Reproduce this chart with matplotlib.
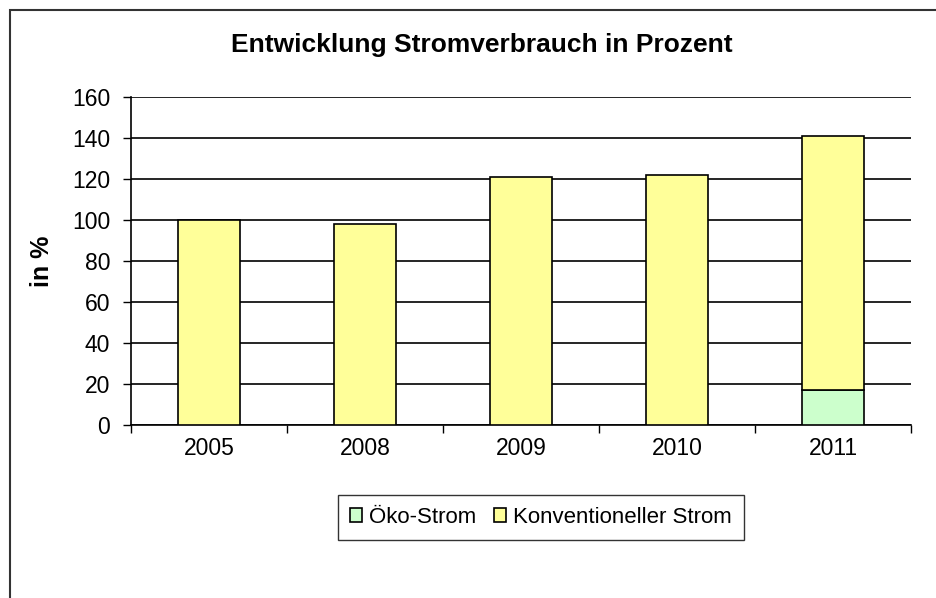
import numpy as np
import matplotlib
matplotlib.use("Agg")
import matplotlib.pyplot as plt
from matplotlib.patches import Rectangle

plt.rcParams['font.family'] = ['Liberation Sans', 'DejaVu Sans']

# Data
years = ['2005', '2008', '2009', '2010', '2011']
oeko = [0, 0, 0, 0, 17]
konventionell = [100, 98, 121, 122, 124]

fig = plt.figure(figsize=(9.36, 5.98), dpi=100)
ax = fig.add_axes([131 / 936, 0.2893, 780 / 936, 0.5485])

x = np.arange(len(years))
w = 0.4
ax.bar(x, oeko, w, color='#CCFFCC', edgecolor='black', linewidth=1.2,
       label='Öko-Strom', zorder=3)
ax.bar(x, konventionell, w, bottom=oeko, color='#FFFF99', edgecolor='black',
       linewidth=1.2, label='Konventioneller Strom', zorder=3)

ax.set_xlim(-0.5, len(years) - 0.5)
ax.set_ylim(0, 160)
ax.set_yticks(range(0, 161, 20))
ax.set_xticks(x)
ax.set_xticklabels(years, fontsize=16.5)
ax.set_xticks(np.arange(-0.5, len(years), 1), minor=True)
ax.tick_params(axis='x', which='major', length=0, pad=9)
ax.tick_params(axis='x', which='minor', length=6, width=1, direction='out')
ax.tick_params(axis='y', labelsize=16.5, length=6, width=1, direction='out',
               pad=9)
ax.yaxis.grid(True, color='black', linewidth=1.2, zorder=0)
ax.set_axisbelow(True)

for s in ['top', 'right']:
    ax.spines[s].set_visible(False)
ax.spines['left'].set_linewidth(1.2)
ax.spines['bottom'].set_linewidth(1.2)

ax.set_ylabel('in %', fontsize=18, fontweight='bold', labelpad=13)
fig.text(0.515, 0.925, 'Entwicklung Stromverbrauch in Prozent', ha='center',
         va='center', fontsize=19, fontweight='bold')

leg = fig.legend(loc='center', bbox_to_anchor=(0.578, 0.135), ncol=2,
                 fontsize=16, frameon=True, fancybox=False, edgecolor='black',
                 handlelength=0.55, handleheight=0.55, handletextpad=0.3,
                 columnspacing=0.8, borderpad=0.55, borderaxespad=0)
leg.get_frame().set_linewidth(1.0)

# outer chart frame
fig.patches.append(Rectangle((10 / 936, -0.1), 1.0, 1 - 10 / 598 + 0.1,
                             transform=fig.transFigure, fill=False,
                             edgecolor='#333333', linewidth=1.5))

fig.savefig('out.png', dpi=100)
